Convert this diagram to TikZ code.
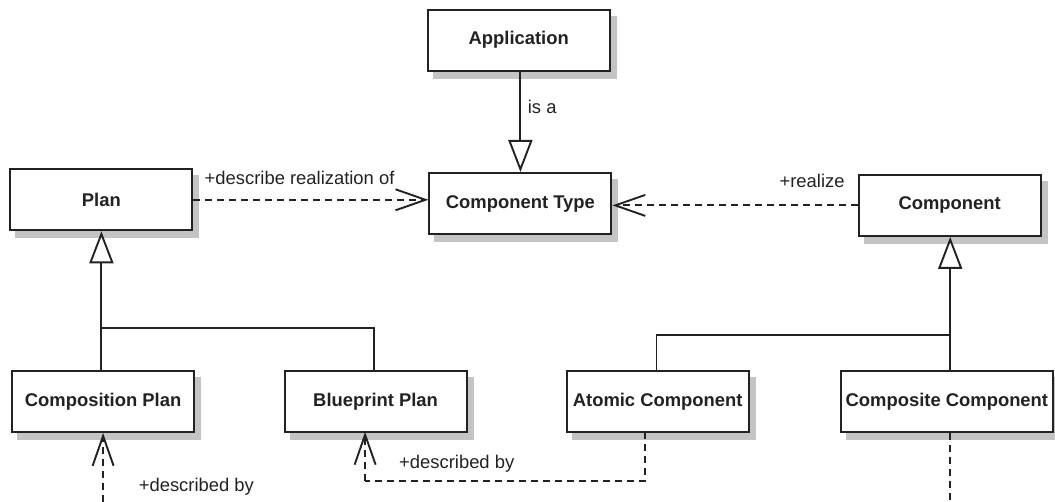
\documentclass[tikz,border=0pt]{standalone}
\usepackage{fontspec}
\setmainfont{Liberation Sans}
\usetikzlibrary{arrows.meta,backgrounds,calc}
\definecolor{ink}{HTML}{222222}
\definecolor{shade}{HTML}{C4C4C4}
\tikzset{
  cls/.style={draw=ink, line width=2pt, fill=white, minimum width=182pt, minimum height=61pt,
    inner sep=0pt, font=\fontsize{18.4}{22}\selectfont\bfseries, text=ink},
  shadowbox/.style={fill=shade, draw=none},
  lbl/.style={font=\fontsize{18.4}{22}\selectfont, text=ink, inner sep=0pt, anchor=west},
  conn/.style={draw=ink, line width=1.9pt},
  gen/.style={conn, -{Triangle[open, length=32pt, width=24pt, line width=1.9pt]}},
  dep/.style={conn, dash pattern=on 7pt off 5pt, -{Straight Barb[length=30pt, width=21pt, line width=1.9pt]}},
  dline/.style={conn, dash pattern=on 7pt off 5pt},
}
\begin{document}
\begin{tikzpicture}[x=1pt,y=-1pt]
\useasboundingbox (0,0) rectangle (1055,502);
% classes
\node[cls] (app) at (518.7,40.2) {Application};
\node[cls] (ct) at (520.4,203.5) {Component Type};
\node[cls] (plan) at (101.4,199.8) {Plan};
\node[cls] (comp) at (949.6,205.4) {Component};
\node[cls] (cp) at (103.1,401.5) {Composition Plan};
\node[cls] (bp) at (375.6,401.5) {Blueprint Plan};
\node[cls] (ac) at (657.7,401.5) {Atomic Component};
\node[cls, minimum width=212pt] (cc) at (946.9,401.5) {Composite Component};
% shadows
\begin{scope}[on background layer]
\foreach \n in {app,ct,plan,comp,cp,bp,ac,cc}{
  \fill[shadowbox] ([xshift=6pt,yshift=-7pt]\n.south west) rectangle ([xshift=6pt,yshift=-7pt]\n.north east);
}
\end{scope}
% helper coordinates
\coordinate (pj) at (101.4,328.4);
\coordinate (cj) at (950.2,335.4);
\coordinate (cpfoot) at (103.1,502);
\coordinate (ccfoot) at (950.2,502);
\coordinate (acout) at (644.8,431.8);
\coordinate (acturn) at (644.8,481);
\coordinate (bpturn) at (365.1,481);
\coordinate (bpin) at (365.1,431.8);
% Application is a Component Type
\draw[gen] (app.south -| ct.north) -- (ct.north);
\node[lbl] (isa) at (527.7,106.7) {is a};
% Plan describes realization of Component Type
\draw[dep] (plan.east) -- (plan.east -| ct.west);
\node[lbl] (drl) at (204.5,177.5) {+describe realization of};
% Component realizes Component Type
\draw[dep] (comp.west) -- (comp.west -| ct.east);
\node[lbl] (rl) at (779.4,180.8) {+realize};
% Plan specialisations
\draw[gen] (cp.north -| pj) -- (plan.south -| pj);
\draw[conn] (pj) -| (bp.north -| 374.2,0);
% Component specialisations
\draw[gen] (cc.north -| cj) -- (comp.south -| cj);
\draw[conn] (cj) -| (ac.north -| 656.5,0);
% described by
\draw[dep] (cpfoot) -- (cp.south);
\node[lbl] (db1) at (138.6,486.6) {+described by};
\draw[dline] (acout) -- (acturn) -- (bpturn);
\draw[dep] (bpturn) -- (bpin);
\node[lbl] (db2) at (399,463.7) {+described by};
\draw[dline] (cc.south -| ccfoot) -- (ccfoot);
\end{tikzpicture}
\end{document}
